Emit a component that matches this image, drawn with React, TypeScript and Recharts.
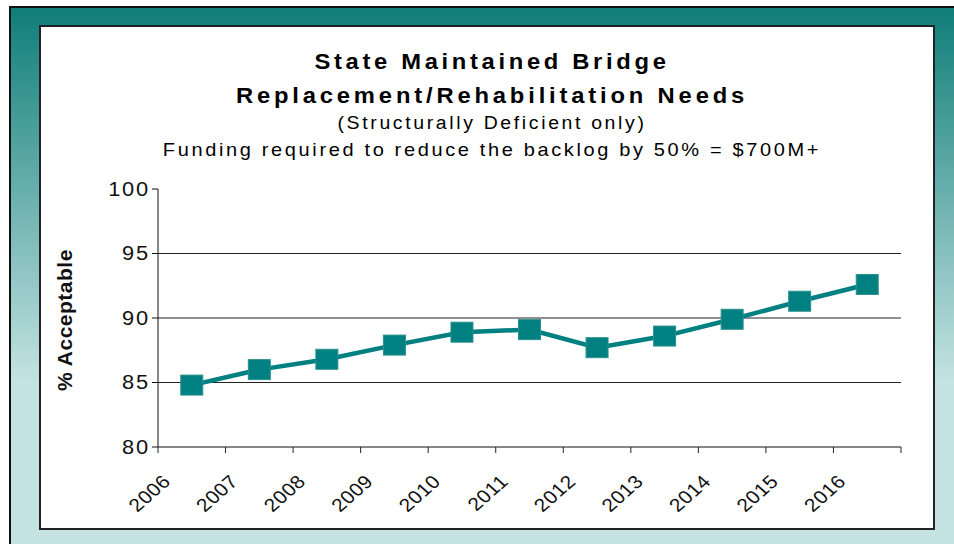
import React from 'react';
import { LineChart, Line, XAxis, YAxis, CartesianGrid } from 'recharts';

const years = ['2006', '2007', '2008', '2009', '2010', '2011', '2012', '2013', '2014', '2015', '2016'];
const acceptable = [84.8, 86.0, 86.8, 87.9, 88.9, 89.1, 87.7, 88.6, 89.9, 91.3, 92.6];
const yTicks = [80, 85, 90, 95, 100];
const gridValues = [85, 90, 95];

const titleLines = ['State Maintained Bridge', 'Replacement/Rehabilitation Needs'];
const subtitle = '(Structurally Deficient only)';
const fundingNote = 'Funding required to reduce the backlog by 50% = $700M+';
const yLabel = '% Acceptable';

const data = years.map((year, i) => ({ year, value: acceptable[i] }));

const FONT = '"Liberation Sans", Arial, Helvetica, sans-serif';
const TEAL = '#008080';
const STRETCH = 1.08;
const CHART_W = 893;
const CHART_H = 502;
const MARGIN = { top: 163, right: 32, bottom: 21, left: 0 };
const Y_AXIS_W = 118;
const X_AXIS_H = 60;
const PLOT_W = CHART_W - MARGIN.left - MARGIN.right - Y_AXIS_W;
const BAND = PLOT_W / years.length;

const XTick = (props: any) => {
  const { x, y, payload, index } = props;
  const left = x - BAND / 2;
  const right = x + BAND / 2;
  const tx = x - 20;
  const ty = y + 35.5;
  return (
    <g>
      <line x1={left} y1={y} x2={left} y2={y + 6} stroke="#222" strokeWidth={1} />
      {index === years.length - 1 && (
        <line x1={right} y1={y} x2={right} y2={y + 6} stroke="#222" strokeWidth={1} />
      )}
      <text
        x={0}
        y={0}
        transform={`translate(${tx} ${ty}) scale(1.13 1) rotate(-45)`}
        textAnchor="end"
        fontSize={18.5}
        letterSpacing={0.5}
        fill="#111"
        fontFamily={FONT}
      >
        {payload.value}
      </text>
    </g>
  );
};

const YTick = (props: any) => {
  const { x, y, payload } = props;
  return (
    <text
      x={0}
      y={0}
      dy="0.355em"
      transform={`translate(${x - 2.3} ${y}) scale(1.12 1)`}
      textAnchor="end"
      fontSize={19.5}
      letterSpacing={1.5}
      fill="#111"
      fontFamily={FONT}
    >
      {payload.value}
    </text>
  );
};

const YLabel = (props: any) => {
  const vb = props.viewBox || { x: 0, y: MARGIN.top, width: Y_AXIS_W, height: 258 };
  const cx = vb.x + 25;
  const cy = vb.y + vb.height / 2 + 2;
  return (
    <text
      x={cx}
      y={cy}
      dy="0.355em"
      transform={`rotate(-90 ${cx} ${cy})`}
      textAnchor="middle"
      fontSize={21}
      fontWeight="bold"
      letterSpacing={0.5}
      fill="#111"
      fontFamily={FONT}
    >
      {yLabel}
    </text>
  );
};

const SquareDot = (props: any) => {
  const { cx, cy, index } = props;
  if (cx == null || cy == null) return null;
  return <rect key={`d${index}`} x={cx - 11} y={cy - 10} width={22} height={20} fill={TEAL} stroke="#2a928e" strokeWidth={1} />;
};

const textLine = (text: string, top: number, size: number, bold: boolean, spacing: number) => (
  <div
    style={{
      position: 'absolute',
      left: 0,
      width: 984,
      top,
      textAlign: 'center',
      fontSize: size,
      lineHeight: `${size}px`,
      fontWeight: bold ? 'bold' : 'normal',
      letterSpacing: spacing,
      fontFamily: FONT,
      color: '#000',
      whiteSpace: 'nowrap',
      transform: `scaleX(${STRETCH})`,
      transformOrigin: '492px 0px',
    }}
  >
    {text}
  </div>
);

export default function App() {
  return (
    <div
      style={{
        position: 'absolute',
        left: 0,
        top: 0,
        width: 954,
        height: 544,
        overflow: 'hidden',
        background: '#fff',
      }}
    >
      <div
        style={{
          position: 'absolute',
          left: 9,
          top: 6,
          width: 1000,
          height: 600,
          borderLeft: '2px solid #111',
          borderTop: '2px solid #111',
          background: 'linear-gradient(180deg, #107e79 0px, #c4e3e2 375px, #c4e3e2 600px)',
        }}
      />
      <div
        style={{
          position: 'absolute',
          left: 39,
          top: 25,
          width: 892,
          height: 501,
          background: '#fff',
          border: '2px solid #222',
        }}
      />
      {textLine(titleLines[0], 50.5, 22, true, 3.4)}
      {textLine(titleLines[1], 84.9, 22, true, 3.55)}
      {textLine(subtitle, 114.3, 18, false, 2.45)}
      {textLine(fundingNote, 141, 18.5, false, 2.45)}
      <div style={{ position: 'absolute', left: 40, top: 26 }}>
        <LineChart width={CHART_W} height={CHART_H} data={data} margin={MARGIN}>
          <CartesianGrid vertical={false} horizontalValues={gridValues} stroke="#222" strokeWidth={1} />
          <XAxis
            dataKey="year"
            scale="band"
            interval={0}
            height={X_AXIS_H}
            tickLine={false}
            tickSize={0}
            tickMargin={0}
            axisLine={{ stroke: '#111', strokeWidth: 1 }}
            tick={<XTick />}
          />
          <XAxis xAxisId="top" orientation="top" dataKey="year" scale="band" height={0} tick={false} tickLine={false} axisLine={{ stroke: '#9a9a9a', strokeWidth: 1 }} />
          <YAxis
            domain={[80, 100]}
            ticks={yTicks}
            width={Y_AXIS_W}
            tickSize={6}
            tickMargin={0}
            interval={0}
            axisLine={{ stroke: '#111', strokeWidth: 1 }}
            tickLine={{ stroke: '#111', strokeWidth: 1 }}
            tick={<YTick />}
            label={<YLabel />}
          />
          <YAxis yAxisId="right" orientation="right" width={0} domain={[0, 1]} tick={false} tickLine={false} axisLine={{ stroke: '#9a9a9a', strokeWidth: 1 }} />
          <Line
            type="linear"
            dataKey="value"
            stroke={TEAL}
            strokeWidth={4.5}
            dot={<SquareDot />}
            activeDot={false}
            isAnimationActive={false}
          />
        </LineChart>
      </div>
    </div>
  );
}
